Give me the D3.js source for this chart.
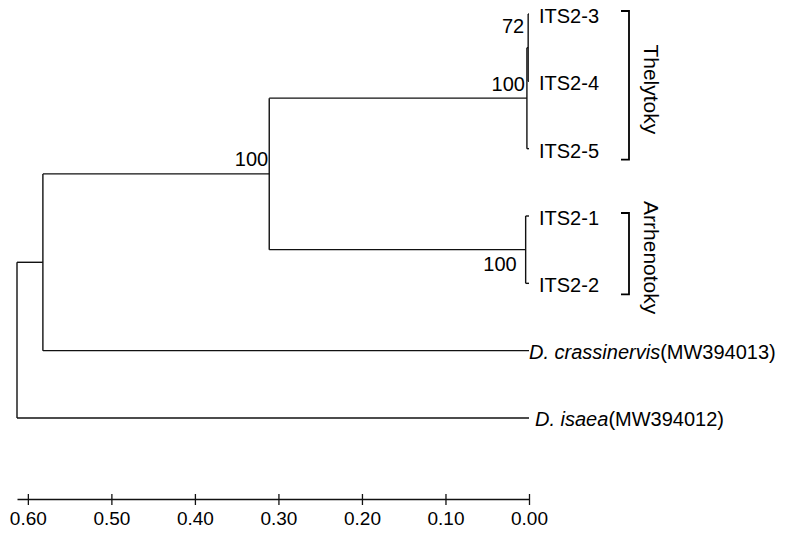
<!DOCTYPE html>
<html>
<head>
<meta charset="utf-8">
<script src="https://cdn.jsdelivr.net/npm/d3@7"></script>
<style>
  body { margin: 0; background: #fff; }
  text { font-family: Arial, "Liberation Sans", sans-serif; fill: #000; }
</style>
</head>
<body>
<div id="chart"></div>
<script>
// tree nodes: id, parent, height (distance read on the axis), bootstrap
const nodeIds = ["root", "n1", "n2", "thely", "t34", "arrh",
  "ITS2-3", "ITS2-4", "ITS2-5", "ITS2-1", "ITS2-2", "crass", "isaea"];
const parentIds = ["", "root", "n1", "n2", "thely", "n2",
  "t34", "t34", "thely", "arrh", "arrh", "n1", "root"];
const heights = [0.613, 0.582, 0.311, 0.0025, 0.001, 0.004,
  0, 0, 0, 0, 0, 0, 0];
const bootstrap = ["", "", "100", "100", "72", "100",
  "", "", "", "", "", "", ""];

// leaf labels (italic part + plain part)
const leafItalic = ["", "", "", "", "", "D. crassinervis", "D. isaea"];
const leafPlain = ["ITS2-3", "ITS2-4", "ITS2-5", "ITS2-1", "ITS2-2", "(MW394013)", "(MW394012)"];

// groups
const groupNames = ["Thelytoky", "Arrhenotoky"];
const groupLeaves = [["ITS2-3", "ITS2-5"], ["ITS2-1", "ITS2-2"]];

const axisTicks = [0.6, 0.5, 0.4, 0.3, 0.2, 0.1, 0.0];

const width = 792;
const height = 538;

let svg = d3.select("#chart").append("svg")
  .attr("width", width)
  .attr("height", height);

let table = nodeIds.map((id, i) => ({ id: id, parent: parentIds[i] || null, h: heights[i], boot: bootstrap[i] }));
let root = d3.stratify().id(d => d.id).parentId(d => d.parent)(table);

let xScale = d3.scaleLinear().domain([0.613, 0]).range([17, 529]);
let leaves = root.leaves();
let yScale = d3.scalePoint().domain(leaves.map(d => d.id)).range([14, 418]);

// positions
root.eachAfter(function (n) {
  n.px = xScale(n.data.h);
  if (n.children) {
    n.py = (n.children[0].py + n.children[n.children.length - 1].py) / 2;
  } else {
    n.py = yScale(n.id);
  }
});

let g = svg.append("g")
  .attr("stroke", "#111")
  .attr("stroke-width", 1.4)
  .attr("fill", "none");

// vertical lines
g.selectAll(".v")
  .data(root.descendants().filter(d => d.children))
  .enter().append("line")
  .attr("x1", d => d.px).attr("x2", d => d.px)
  .attr("y1", d => d.children[0].py)
  .attr("y2", d => d.children[d.children.length - 1].py);

// horizontal branches
g.selectAll(".h")
  .data(root.descendants().filter(d => d.parent))
  .enter().append("line")
  .attr("x1", d => d.parent.px).attr("x2", d => d.px)
  .attr("y1", d => d.py).attr("y2", d => d.py);

// bootstrap values
let bootDy = { n2: -8, thely: -7, t34: -15, arrh: 21 };
let bootDx = { n2: -1, thely: -2, t34: -4, arrh: -9 };
svg.selectAll(".boot")
  .data(root.descendants().filter(d => d.data.boot))
  .enter().append("text")
  .attr("text-anchor", "end")
  .style("font-size", "20px")
  .attr("x", d => d.px + bootDx[d.id])
  .attr("y", d => d.py + bootDy[d.id])
  .text(d => d.data.boot);

// leaf labels
let leafGap = [10, 10, 10, 10, 10, 0, 6];
let labels = svg.selectAll(".leaf")
  .data(leaves)
  .enter().append("text")
  .style("font-size", "20px")
  .attr("x", (d, i) => d.px + leafGap[i])
  .attr("y", (d, i) => d.py + (leafItalic[i] ? 8 : 9));
labels.append("tspan")
  .style("font-style", "italic")
  .text((d, i) => leafItalic[i]);
labels.append("tspan")
  .text((d, i) => leafPlain[i]);

// group brackets
let bx = 629;
groupNames.forEach(function (name, i) {
  let y0 = yScale(groupLeaves[i][0]) - 3;
  let y1 = yScale(groupLeaves[i][1]) + 11;
  svg.append("path")
    .attr("d", "M" + (bx - 8) + "," + y0 + "H" + bx + "V" + y1 + "H" + (bx - 8))
    .attr("fill", "none")
    .attr("stroke", "#000")
    .attr("stroke-width", 1.8);
  svg.append("text")
    .attr("transform", "translate(" + (bx + 15) + "," + ((y0 + y1) / 2 + 4) + ") rotate(90)")
    .attr("text-anchor", "middle")
    .style("font-size", "21px")
    .text(name);
});

// scale bar axis
let xAxis = d3.axisBottom(xScale)
  .tickValues(axisTicks)
  .tickFormat(d3.format(".2f"))
  .tickSizeInner(6)
  .tickSizeOuter(0);

let axisG = svg.append("g")
  .attr("transform", "translate(0,499)")
  .call(xAxis);
axisG.select(".domain")
  .attr("stroke", "#111")
  .attr("stroke-width", 1.7);
axisG.selectAll(".tick line")
  .attr("y1", -5).attr("y2", 6)
  .attr("stroke", "#111")
  .attr("stroke-width", 1.3);
axisG.selectAll(".tick text")
  .attr("y", 13)
  .attr("dy", "0.71em")
  .style("font-size", "19px")
  .style("font-family", "Arial, 'Liberation Sans', sans-serif")
  .attr("fill", "#000");
</script>
</body>
</html>
